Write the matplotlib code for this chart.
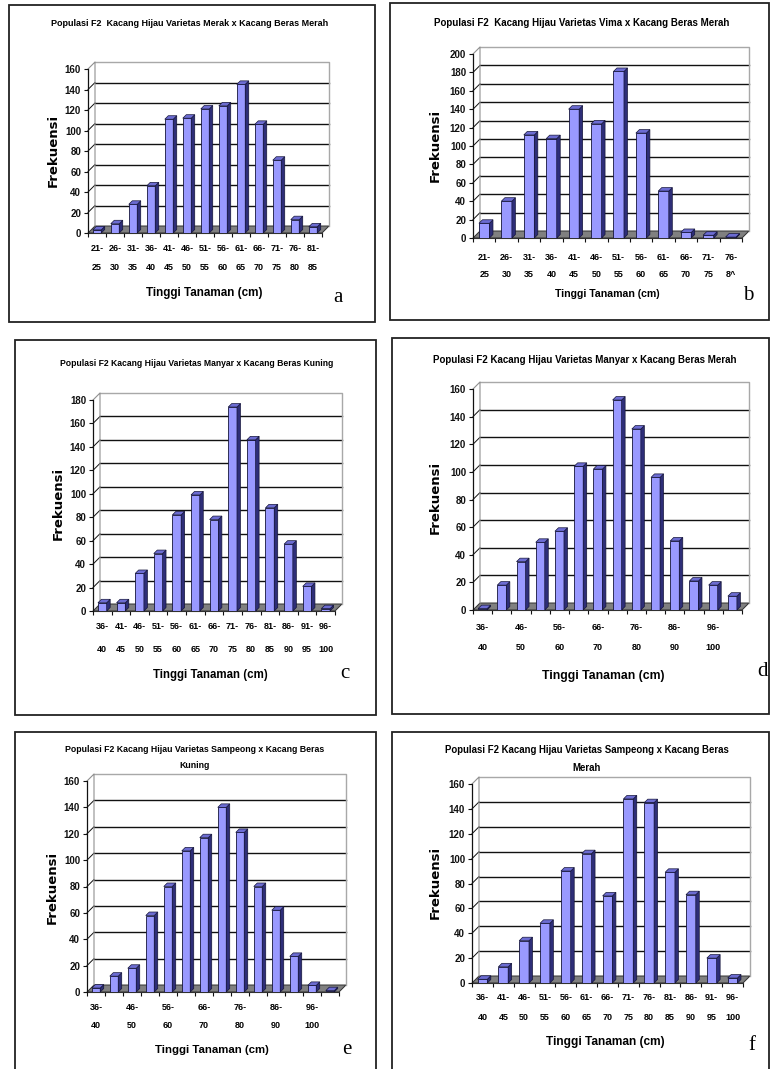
import numpy as np
import matplotlib
matplotlib.use("Agg")
import matplotlib.pyplot as plt
from matplotlib.patches import Polygon, Rectangle

W, H = 770, 1069

# tinggi tanaman (cm) classes and frequencies per cross
cls_a = ["21-\n25", "26-\n30", "31-\n35", "36-\n40", "41-\n45", "46-\n50", "51-\n55",
         "56-\n60", "61-\n65", "66-\n70", "71-\n75", "76-\n80", "81-\n85"]
freq_a = [3, 9, 28, 46, 111, 112, 121, 124, 145, 106, 71, 13, 6]

cls_b = ["21-\n25", "26-\n30", "31-\n35", "36-\n40", "41-\n45", "46-\n50", "51-\n55",
         "56-\n60", "61-\n65", "66-\n70", "71-\n75", "76-\n8^"]
freq_b = [16, 40, 112, 108, 140, 124, 181, 114, 51, 6, 3, 1]

cls_c = ["36-\n40", "41-\n45", "46-\n50", "51-\n55", "56-\n60", "61-\n65", "66-\n70",
         "71-\n75", "76-\n80", "81-\n85", "86-\n90", "91-\n95", "96-\n100"]
freq_c = [7, 7, 32, 49, 82, 99, 78, 174, 146, 88, 57, 21, 2]

cls_d = ["36-\n40", "", "46-\n50", "", "56-\n60", "", "66-\n70", "", "76-\n80", "",
         "86-\n90", "", "96-\n100", ""]
freq_d = [1, 18, 35, 49, 57, 104, 102, 152, 131, 96, 50, 21, 18, 10]

cls_e = ["36-\n40", "", "46-\n50", "", "56-\n60", "", "66-\n70", "", "76-\n80", "",
         "86-\n90", "", "96-\n100", ""]
freq_e = [3, 12, 18, 58, 80, 107, 117, 140, 121, 80, 62, 27, 5, 1]

cls_f = ["36-\n40", "41-\n45", "46-\n50", "51-\n55", "56-\n60", "61-\n65", "66-\n70",
         "71-\n75", "76-\n80", "81-\n85", "86-\n90", "91-\n95", "96-\n100"]
freq_f = [3, 13, 34, 48, 90, 104, 70, 148, 145, 89, 71, 20, 4]

titles = {
    "a": "Populasi F2  Kacang Hijau Varietas Merak x Kacang Beras Merah",
    "b": "Populasi F2  Kacang Hijau Varietas Vima x Kacang Beras Merah",
    "c": "Populasi F2 Kacang Hijau Varietas Manyar x Kacang Beras Kuning",
    "d": "Populasi F2 Kacang Hijau Varietas Manyar x Kacang Beras Merah",
    "e": "Populasi F2 Kacang Hijau Varietas Sampeong x Kacang Beras\nKuning",
    "f": "Populasi F2 Kacang Hijau Varietas Sampeong x Kacang Beras\nMerah",
}
ymax = {"a": 160, "b": 200, "c": 180, "d": 160, "e": 160, "f": 160}

# layout in pixels: box, plot front plane (x0, x1, y of zero, y of ymax),
# title (x, y, size), xlabel (x, y, size), ylabel, letter, tick pad, line spacing
LAY = {
    "a": dict(box=(9, 5, 375, 322), plot=(88, 322, 233, 69), title=(190, 24, 6.5),
              xl=(204, 293, 8.4), yl=(53, 150), let=(338, 297), pad=8, ls=2.4),
    "b": dict(box=(390, 3, 769, 320), plot=(473, 742, 238, 54), title=(582, 23, 7.0),
              xl=(607, 294, 7.6), yl=(435, 145), let=(748, 296), pad=11, ls=2.1),
    "c": dict(box=(15, 340, 376, 715), plot=(93, 335, 611, 400), title=(197, 363, 6.2),
              xl=(210, 675, 8.3), yl=(58, 503), let=(345, 673), pad=8, ls=3.0),
    "d": dict(box=(392, 338, 769, 714), plot=(473, 742, 610, 389), title=(585, 360, 7.0),
              xl=(603, 676, 8.8), yl=(435, 497), let=(762, 672), pad=9, ls=2.6),
    "e": dict(box=(15, 732, 376, 1072), plot=(87, 339, 992, 781), title=(195, 758, 6.3),
              xl=(212, 1050, 8.2), yl=(52, 887), let=(347, 1050), pad=8, ls=2.2),
    "f": dict(box=(392, 732, 769, 1072), plot=(472, 743, 983, 784), title=(587, 759, 6.9),
              xl=(605, 1042, 8.6), yl=(435, 882), let=(752, 1045), pad=7, ls=2.6),
}
DATA = {"a": (cls_a, freq_a), "b": (cls_b, freq_b), "c": (cls_c, freq_c),
        "d": (cls_d, freq_d), "e": (cls_e, freq_e), "f": (cls_f, freq_f)}

NARROW = ["Liberation Sans Narrow", "Liberation Sans", "DejaVu Sans"]
WALL_DX, WALL_DY = 7, 7      # depth of the back wall, px
BAR_W = 0.47
FRONT, SIDE, TOP = "#9999ff", "#2e2e78", "#6c6cd2"

fig = plt.figure(figsize=(W / 100, H / 100), dpi=100)
fig.patch.set_facecolor("white")


def fx(x):
    return x / W


def fy(y):
    return 1 - y / H


def draw_panel(key):
    lay = LAY[key]
    labels, vals = DATA[key]
    top = ymax[key]
    n = len(vals)
    x0, x1, yz, yt = lay["plot"]

    # panel frame
    l, t, r, b = lay["box"]
    fig.add_artist(Rectangle((fx(l), fy(b)), fx(r - l), (b - t) / H, fill=False,
                             edgecolor="#222222", lw=1.3, transform=fig.transFigure))

    ax = fig.add_axes([fx(x0), fy(yz), (x1 - x0) / W, (yz - yt) / H])
    ax.set_xlim(-0.5, n - 0.5)
    ax.set_ylim(0, top)
    ax.patch.set_alpha(0)

    dxd = WALL_DX * n / (x1 - x0)
    dyd = WALL_DY * top / (yz - yt)
    lo, hi = -0.5, n - 0.5

    # floor
    ax.add_patch(Polygon([(lo, 0), (hi, 0), (hi + dxd, dyd), (lo + dxd, dyd)],
                         closed=True, facecolor="#808080", edgecolor="#303030",
                         lw=0.7, clip_on=False, zorder=1))
    # back wall gridlines and the matching lines across the side wall
    step = 20
    for v in np.arange(step, top, step):
        ax.plot([lo + dxd, hi + dxd], [v + dyd, v + dyd], color="#111111",
                lw=1.0, clip_on=False, zorder=1)
        ax.plot([lo, lo + dxd], [v, v + dyd], color="#111111", lw=0.7,
                clip_on=False, zorder=1)
    # wall outline
    ax.plot([lo + dxd, hi + dxd, hi + dxd], [top + dyd, top + dyd, dyd],
            color="#a8a8a8", lw=1.0, clip_on=False, zorder=1)
    ax.plot([lo, lo + dxd, lo + dxd], [top, top + dyd, dyd],
            color="#909090", lw=0.8, clip_on=False, zorder=1)

    # columns with side and top faces
    xs = np.arange(n)
    ax.bar(xs, vals, width=BAR_W, color=FRONT, edgecolor="#15153a", lw=0.6, zorder=3)
    bdx, bdy = dxd * 0.5, dyd * 0.5
    for xi, v in zip(xs, vals):
        xl_, xr_ = xi - BAR_W / 2, xi + BAR_W / 2
        ax.add_patch(Polygon([(xr_, 0), (xr_ + bdx, bdy), (xr_ + bdx, v + bdy), (xr_, v)],
                             closed=True, facecolor=SIDE, edgecolor="#15153a",
                             lw=0.5, zorder=3, clip_on=False))
        ax.add_patch(Polygon([(xl_, v), (xr_, v), (xr_ + bdx, v + bdy), (xl_ + bdx, v + bdy)],
                             closed=True, facecolor=TOP, edgecolor="#15153a",
                             lw=0.5, zorder=3, clip_on=False))

    for s in ("top", "right", "bottom"):
        ax.spines[s].set_visible(False)
    ax.spines["left"].set_color("#111111")
    ax.spines["left"].set_linewidth(0.9)
    ax.spines["left"].set_zorder(2)

    ax.set_yticks(np.arange(0, top + 1, step))
    ax.tick_params(axis="y", direction="out", length=3, width=0.8, pad=2,
                   labelsize=7, colors="#111111")
    for lab in ax.get_yticklabels():
        lab.set_fontfamily(NARROW)
        lab.set_fontweight("bold")

    # category boundaries carry the tick marks, centres carry the labels
    ax.set_xticks(np.arange(-0.5, n, 1.0), minor=True)
    ax.set_xticks(xs)
    ax.set_xticklabels(labels, linespacing=lay["ls"])
    ax.tick_params(axis="x", which="minor", direction="out", length=3, width=0.8,
                   color="#111111")
    ax.tick_params(axis="x", which="major", length=0, pad=lay["pad"], labelsize=6.5)
    for lab in ax.get_xticklabels():
        lab.set_fontfamily(NARROW)
        lab.set_fontweight("bold")
        lab.set_verticalalignment("top")
    ax.axhline(0, color="#303030", lw=0.8, zorder=2, clip_on=False)

    tx, ty, ts = lay["title"]
    fig.text(fx(tx), fy(ty), titles[key], ha="center", va="center", fontsize=ts,
             fontweight="bold", family=NARROW, linespacing=2.0)
    lx, ly, ls = lay["xl"]
    fig.text(fx(lx), fy(ly), "Tinggi Tanaman (cm)", ha="center", va="center",
             fontsize=ls, fontweight="bold", family=NARROW)
    yx, yy = lay["yl"]
    fig.text(fx(yx), fy(yy), "Frekuensi", ha="center", va="center", rotation=90,
             fontsize=9.5, fontweight="bold", family="DejaVu Sans")
    cx, cy = lay["let"]
    fig.text(fx(cx), fy(cy), key, ha="center", va="center", fontsize=15,
             family=["Liberation Serif", "DejaVu Serif"])


for k in "abcdef":
    draw_panel(k)

fig.savefig("out.png", dpi=100, facecolor="white")
